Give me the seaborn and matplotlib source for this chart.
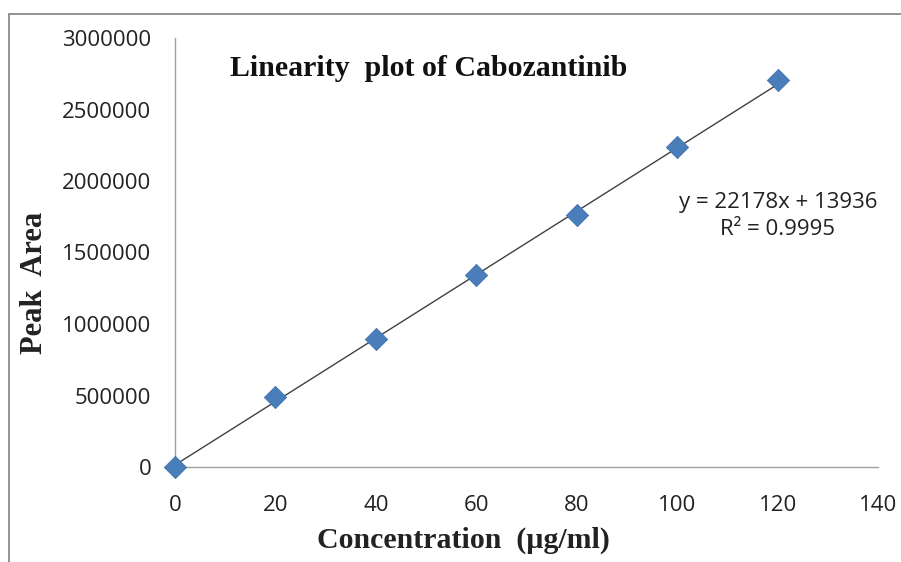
import numpy as np
import pandas as pd
import seaborn as sns
import matplotlib
matplotlib.use("Agg")
import matplotlib.pyplot as plt
from matplotlib.lines import Line2D

concentration = [0, 20, 40, 60, 80, 100, 120]
peak_area = [0, 490000, 895000, 1343000, 1762000, 2238000, 2706000]
slope = 22178
intercept = 13936
r2_text = "0.9995"
x_ticks = [0, 20, 40, 60, 80, 100, 120, 140]
y_ticks = [0, 500000, 1000000, 1500000, 2000000, 2500000, 3000000]

df = pd.DataFrame({"Concentration": concentration, "Peak Area": peak_area})

sns.set_theme(style="white")
plt.rcParams['font.family'] = ['Open Sans', 'DejaVu Sans']

fig = plt.figure(figsize=(9.01, 5.62), dpi=100)
ax = fig.add_axes([175/901, 1-467/562, (878-175)/901, (467-38)/562])

trend = pd.DataFrame({"x": [0, 120]})
trend["y"] = slope * trend["x"] + intercept
sns.lineplot(data=trend, x="x", y="y", ax=ax, color="#404040", linewidth=1.0, zorder=2)
sns.scatterplot(data=df, x="Concentration", y="Peak Area", ax=ax, marker="D",
                s=130, color="#4a7ebb", edgecolor="#3a6eab", linewidth=0.5, zorder=3,
                clip_on=False)

ax.set_xlim(0, 140)
ax.set_ylim(0, 3000000)
ax.set_xticks(x_ticks)
ax.set_yticks(y_ticks)
ax.set_xticklabels([str(v) for v in x_ticks], fontsize=16)
ax.set_yticklabels([str(v) for v in y_ticks], fontsize=16)
ax.tick_params(axis='both', length=0, colors="#222222")
ax.tick_params(axis='x', pad=20)
ax.tick_params(axis='y', pad=17)
for s in ["top", "right"]:
    ax.spines[s].set_visible(False)
for s in ["left", "bottom"]:
    ax.spines[s].set_color("#a0a0a0")
    ax.spines[s].set_linewidth(1.0)
ax.set_xlabel("")
ax.set_ylabel("")

serif = ['Liberation Serif', 'DejaVu Serif']
fig.text(463/901, 1-540/562, "Concentration  (µg/ml)", family=serif, fontsize=21.5,
         fontweight='bold', ha='center', va='center', color="#222222")
fig.text(35/901, 1-283/562, "Peak  Area", family=serif, fontsize=22,
         fontweight='bold', rotation=90, ha='center', va='center', color="#222222")

fig.text(230/901, 1-68/562, "Linearity  plot of Cabozantinib", family=serif, fontsize=21.5,
         fontweight='bold', ha='left', va='center', color="#111111")
fig.text(778/901, 1-216/562, f"y = {slope}x + {intercept}\nR² = {r2_text}", fontsize=16,
         ha='center', va='center', linespacing=1.35, color="#222222")

fig.add_artist(Line2D([9/901, 1], [1-14/562, 1-14/562], color="#808080", linewidth=1.2))
fig.add_artist(Line2D([9/901, 9/901], [0, 1-14/562], color="#808080", linewidth=1.2))

fig.savefig("out.png", dpi=100, facecolor="white")
